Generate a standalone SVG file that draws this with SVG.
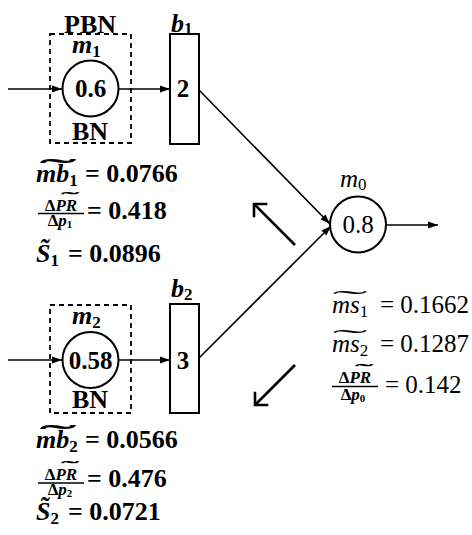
<svg xmlns="http://www.w3.org/2000/svg" width="472" height="535" viewBox="0 0 472 535">
<style>
text{font-family:'Liberation Serif','Times New Roman',serif;fill:#000}
.b{font-weight:bold}
.i{font-style:italic}
.t26{font-size:26px}
.t25{font-size:25px}
.t17{font-size:17px}
.sub{font-size:17px}
.mid{text-anchor:middle}
.node{fill:#fff;stroke:#000;stroke-width:2}
.dash{fill:none;stroke:#000;stroke-width:1.8;stroke-dasharray:5 4}
.conn{fill:none;stroke:#000;stroke-width:1.6}
.big{fill:none;stroke:#000;stroke-width:2.6}
.bar{stroke:#000;stroke-width:1.6}
</style>
<defs>
<marker id="ah" markerUnits="userSpaceOnUse" markerWidth="12" markerHeight="10" refX="10" refY="5" orient="auto" viewBox="0 0 12 10">
<path d="M0,1.5 L10,5 L0,8.5 Z" fill="#000"/>
</marker>
<marker id="chev" markerUnits="userSpaceOnUse" markerWidth="20" markerHeight="24" refX="14" refY="12" orient="auto" viewBox="0 0 20 24">
<path d="M5.5,3.5 L14,12 L5.5,20.5" fill="none" stroke="#000" stroke-width="2.6" stroke-linecap="square"/>
</marker>
</defs>

<g id="connectors">
<line class="conn" x1="8" y1="89" x2="62" y2="89" marker-end="url(#ah)"/>
<line class="conn" x1="119" y1="89" x2="170" y2="89" marker-end="url(#ah)"/>
<line class="conn" x1="8" y1="360" x2="62" y2="360" marker-end="url(#ah)"/>
<line class="conn" x1="119" y1="360" x2="170" y2="360" marker-end="url(#ah)"/>
<line class="conn" x1="199" y1="90" x2="330" y2="224" marker-end="url(#ah)"/>
<line class="conn" x1="199" y1="358" x2="331" y2="226" marker-end="url(#ah)"/>
<line class="conn" x1="386" y1="225" x2="438" y2="225" marker-end="url(#ah)"/>
<line class="big" x1="295" y1="245" x2="254" y2="204" marker-end="url(#chev)"/>
<line class="big" x1="295" y1="365" x2="255" y2="405" marker-end="url(#chev)"/>
</g>

<g id="m1">
<rect class="dash" x="50" y="34" width="81" height="109"/>
<text class="b t26 mid" x="90" y="33">PBN</text>
<text class="b t26 i" x="72" y="53">m<tspan class="sub" font-style="normal" dy="4">1</tspan></text>
<circle class="node" cx="90.5" cy="88.5" r="28"/>
<text class="b t25 mid" x="90.5" y="97">0.6</text>
<text class="b t26 mid" x="90" y="140">BN</text>
</g>

<g id="b1">
<rect class="node" x="170" y="34" width="29" height="110"/>
<text class="b t26 i" x="171" y="32">b<tspan class="sub" font-style="normal" dy="2">1</tspan></text>
<text class="b t25 mid" x="183" y="97">2</text>
</g>

<g id="m2">
<rect class="dash" x="50" y="305" width="81" height="108"/>
<text class="b t26 i" x="72" y="324">m<tspan class="sub" font-style="normal" dy="4">2</tspan></text>
<circle class="node" cx="90.5" cy="360" r="28"/>
<text class="b t25 mid" x="90.5" y="368.5">0.58</text>
<text class="b t26 mid" x="90" y="408">BN</text>
</g>

<g id="b2">
<rect class="node" x="170" y="304" width="29" height="109"/>
<text class="b t26 i" x="171" y="297">b<tspan class="sub" font-style="normal" dy="3">2</tspan></text>
<text class="b t25 mid" x="183" y="368.5">3</text>
</g>

<g id="m0">
<circle class="node" cx="358" cy="224.5" r="28"/>
<text class="t25 i" x="340" y="187">m<tspan class="sub" font-style="normal" dy="3">0</tspan></text>
<text class="t25 mid" x="358" y="233">0.8</text>
</g>

<g id="left-top-values">
<text class="b t26 i" x="36" y="182">mb<tspan class="sub" font-style="normal" dy="4">1</tspan></text>
<text class="b t26" transform="translate(58,177) scale(4.2,1)" text-anchor="middle">˜</text>
<text class="b t26" x="85" y="182">= 0.0766</text>

<text class="b t17 mid" x="61" y="211">Δ<tspan class="i">PR</tspan></text>
<text class="b t17" transform="translate(70,204) scale(3.2,1)" text-anchor="middle">˜</text>
<line class="bar" x1="38" y1="213.5" x2="84" y2="213.5"/>
<text class="b t17 mid" x="60" y="226">Δ<tspan class="i">p</tspan><tspan font-size="11" dy="2">1</tspan></text>
<text class="b t26" x="87" y="219">= 0.418</text>

<text class="b t26 i" x="36" y="262">S̃<tspan class="sub" font-style="normal" dy="4">1</tspan></text>
<text class="b t26" x="68" y="262">= 0.0896</text>
</g>

<g id="left-bottom-values">
<text class="b t26 i" x="36" y="448">mb<tspan class="sub" font-style="normal" dy="4">2</tspan></text>
<text class="b t26" transform="translate(58,443) scale(4.2,1)" text-anchor="middle">˜</text>
<text class="b t26" x="85" y="448">= 0.0566</text>

<text class="b t17 mid" x="61" y="480">Δ<tspan class="i">PR</tspan></text>
<text class="b t17" transform="translate(70,473) scale(3.2,1)" text-anchor="middle">˜</text>
<line class="bar" x1="38" y1="483" x2="84" y2="483"/>
<text class="b t17 mid" x="60" y="495">Δ<tspan class="i">p</tspan><tspan font-size="11" dy="2">2</tspan></text>
<text class="b t26" x="87" y="487">= 0.476</text>

<text class="b t26 i" x="36" y="520">S̃<tspan class="sub" font-style="normal" dy="4">2</tspan></text>
<text class="b t26" x="68" y="520">= 0.0721</text>
</g>

<g id="right-values">
<text class="t25 i" x="332" y="313">ms<tspan class="sub" font-style="normal" dy="4">1</tspan></text>
<text class="t25" transform="translate(350,308) scale(4.2,1)" text-anchor="middle">˜</text>
<text class="t25" x="380" y="313">= 0.1662</text>

<text class="t25 i" x="332" y="352">ms<tspan class="sub" font-style="normal" dy="4">2</tspan></text>
<text class="t25" transform="translate(350,347) scale(4.2,1)" text-anchor="middle">˜</text>
<text class="t25" x="380" y="352">= 0.1287</text>

<text class="b t17 mid" x="355" y="383">Δ<tspan class="i">PR</tspan></text>
<text class="b t17" transform="translate(364,376) scale(3.2,1)" text-anchor="middle">˜</text>
<line class="bar" x1="332" y1="386.5" x2="378" y2="386.5"/>
<text class="b t17 mid" x="353" y="400">Δ<tspan class="i">p</tspan><tspan font-size="11" dy="2">0</tspan></text>
<text class="t25" x="385" y="393">= 0.142</text>
</g>
</svg>
